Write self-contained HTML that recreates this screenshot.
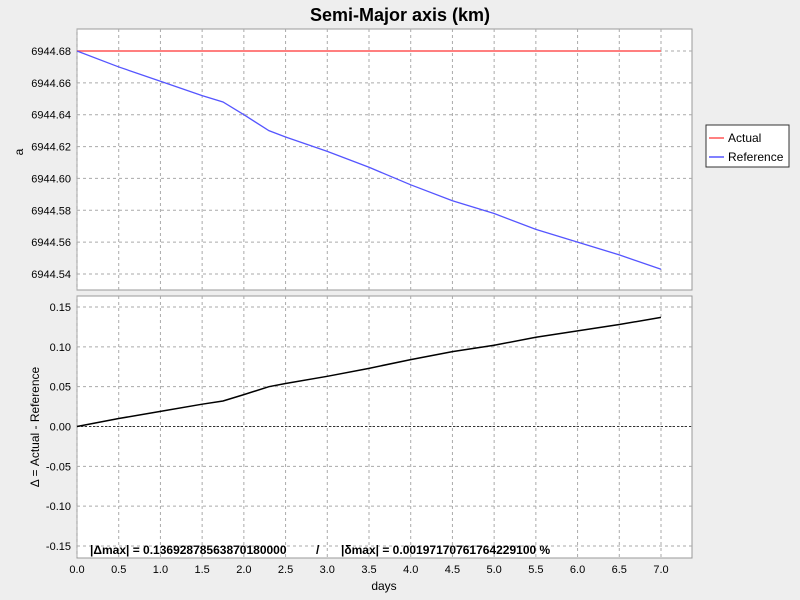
<!DOCTYPE html>
<html><head><meta charset="utf-8"><style>
body{margin:0;background:#eeeeee;font-family:"Liberation Sans",sans-serif;}
svg{display:block}
</style></head><body>
<svg id="c" width="800" height="600" xmlns="http://www.w3.org/2000/svg">
<rect width="800" height="600" fill="#eeeeee"/>
<text x="400" y="21" text-anchor="middle" font-size="18" font-weight="bold">Semi-Major axis (km)</text>
<rect x="77" y="29" width="615" height="261" fill="#fff" stroke="#999"/>
<rect x="77" y="296" width="615" height="262" fill="#fff" stroke="#999"/>
<g id="grid"></g><g id="marks"></g><g id="axes" font-size="11"></g>
<text transform="translate(23,152) rotate(-90)" text-anchor="middle" font-size="12">a</text>
<text transform="translate(39,427) rotate(-90)" text-anchor="middle" font-size="12">Δ = Actual - Reference</text>
<text x="384" y="590" text-anchor="middle" font-size="12">days</text>
<text x="90" y="554" font-size="12" font-weight="bold">|Δmax| = 0.13692878563870180000</text>
<text x="316" y="554" font-size="12" font-weight="bold">/</text>
<text x="341" y="554" font-size="12" font-weight="bold">|δmax| = 0.00197170761764229100 %</text>
<g>
<rect x="706" y="125" width="83" height="42" fill="#fff" stroke="#333"/>
<line x1="709" y1="138" x2="724" y2="138" stroke="#ff5555" stroke-width="1.5"/>
<text x="728" y="142" font-size="12">Actual</text>
<line x1="709" y1="157" x2="724" y2="157" stroke="#5555ff" stroke-width="1.5"/>
<text x="728" y="161" font-size="12">Reference</text>
</g>
</svg>
<script>
const days=[0,0.5,1,1.5,1.75,2,2.3,2.5,3,3.5,4,4.5,5,5.5,6,6.5,7];
const reference=[6944.68,6944.670,6944.661,6944.652,6944.648,6944.640,6944.630,6944.626,6944.617,6944.607,6944.596,6944.586,6944.578,6944.568,6944.560,6944.552,6944.543];
const actual=[6944.68,6944.68,6944.68,6944.68,6944.68,6944.68,6944.68,6944.68,6944.68,6944.68,6944.68,6944.68,6944.68,6944.68,6944.68,6944.68,6944.68];
const xTicks=[0,0.5,1,1.5,2,2.5,3,3.5,4,4.5,5,5.5,6,6.5,7];
const topTicks=[6944.54,6944.56,6944.58,6944.60,6944.62,6944.64,6944.66,6944.68];
const botTicks=[-0.15,-0.10,-0.05,0,0.05,0.10,0.15];
const NS="http://www.w3.org/2000/svg";
const X=d=>77+d*(661-77)/7;
const YT=v=>51+(6944.68-v)*(274-51)/0.14;
const YB=v=>426.5-v*(426.5-307)/0.15;
function mk(t,a,p){const e=document.createElementNS(NS,t);for(const k in a)e.setAttribute(k,a[k]);document.getElementById(p).appendChild(e);return e;}
xTicks.forEach(t=>{
 let g=mk('line',{x1:X(t),x2:X(t),y1:29,y2:290,stroke:'#aaa','stroke-dasharray':'3,3'},'grid');
 
 
 let g2=mk('line',{x1:X(t),x2:X(t),y1:296,y2:558,stroke:'#aaa','stroke-dasharray':'3,3'},'grid');
 
 
 let l=mk('text',{x:X(t),y:573,'text-anchor':'middle'},'axes');l.textContent=t.toFixed(1);
 
 
});
topTicks.forEach(t=>{
 let g=mk('line',{x1:77,x2:692,y1:YT(t),y2:YT(t),stroke:'#aaa','stroke-dasharray':'3,3'},'grid');
 
 
 let l=mk('text',{x:71,y:YT(t)+4,'text-anchor':'end'},'axes');l.textContent=t.toFixed(2);
 
 
});
botTicks.forEach(t=>{
 let g=mk('line',{x1:77,x2:692,y1:YB(t),y2:YB(t),stroke:'#aaa','stroke-dasharray':'3,3'},'grid');
 
 
 let l=mk('text',{x:71,y:YB(t)+4,'text-anchor':'end'},'axes');l.textContent=t.toFixed(2);
 
 
});
let z=mk('line',{x1:77,x2:692,y1:YB(0),y2:YB(0),stroke:'#333','stroke-dasharray':'2,2'},'grid');


let a=mk('polyline',{points:days.map((d,i)=>X(d)+','+YT(actual[i])).join(' '),fill:'none',stroke:'#ff5555','stroke-width':1.5},'marks');


let r=mk('polyline',{points:days.map((d,i)=>X(d)+','+YT(reference[i])).join(' '),fill:'none',stroke:'#5555ff','stroke-width':1.3},'marks');


let dl=mk('polyline',{points:days.map((d,i)=>X(d)+','+YB(actual[i]-reference[i])).join(' '),fill:'none',stroke:'#000','stroke-width':1.5},'marks');


</script>
</body></html>
